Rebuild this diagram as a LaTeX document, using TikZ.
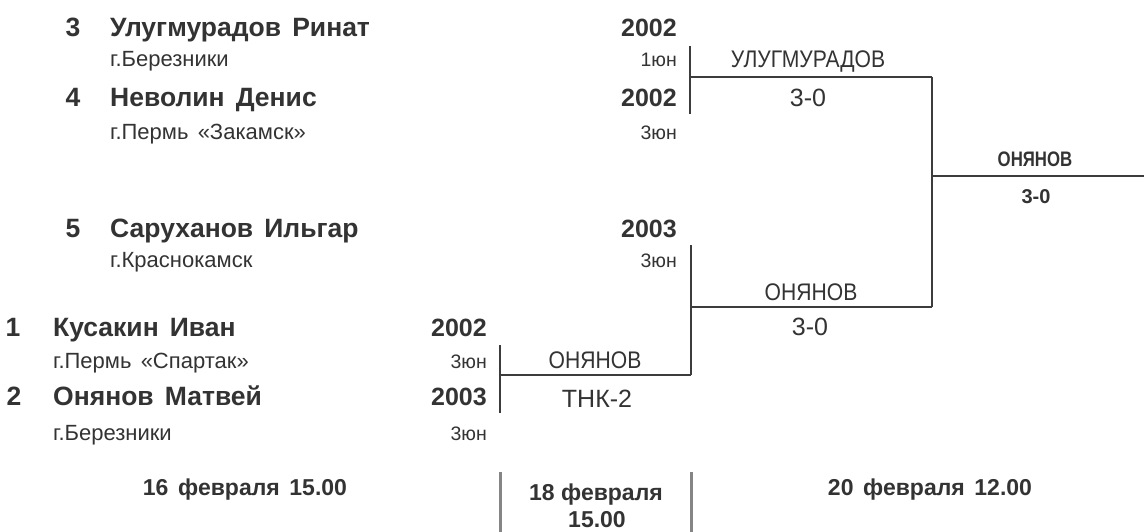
\documentclass[tikz,border=0pt]{standalone}
\usepackage{fontspec}
\setmainfont{Liberation Sans}
\newfontfamily\narrowfont[FakeStretch=0.88]{Liberation Sans}
\newfontfamily\finfont[FakeStretch=0.8]{Liberation Sans}
\definecolor{txt}{HTML}{333333}
\definecolor{ln}{HTML}{3C3C3C}
\definecolor{bar}{HTML}{858585}
\newcommand\wgap{\hspace{0.42em}}
\tikzset{
  every node/.style={inner sep=0pt, text=txt},
  seed/.style={anchor=base, font=\bfseries\fontsize{26.5}{28}\selectfont},
  pname/.style={anchor=base west, font=\bfseries\fontsize{26.5}{28}\selectfont},
  city/.style={anchor=base west, font=\fontsize{22}{24}\selectfont},
  yr/.style={anchor=base east, font=\bfseries\fontsize{25}{27}\selectfont},
  rnk/.style={anchor=base east, font=\fontsize{19.5}{21}\selectfont},
  win/.style={anchor=base, font=\narrowfont\fontsize{24}{26}\selectfont},
  score/.style={anchor=base, font=\fontsize{25}{27}\selectfont},
  finw/.style={anchor=base, font=\finfont\bfseries\fontsize{21}{23}\selectfont},
  fins/.style={anchor=base, font=\bfseries\fontsize{20}{22}\selectfont},
  datef/.style={anchor=base, font=\bfseries\fontsize{23}{25}\selectfont},
  bline/.style={draw=ln, line width=1.4pt},
  sepbar/.style={draw=bar, line width=3pt}
}
\begin{document}
\begin{tikzpicture}[x=1pt,y=-1pt]
\path[fill=white, use as bounding box] (0,0) rectangle (1144,532);

% top pair
\node[seed] (s3) at (73,37) {3};
\node[pname] (n3) at (110,37) {Улугмурадов\wgap Ринат};
\node[city] (c3) at (110,67) {г.Березники};
\node[seed] (s4) at (73,107) {4};
\node[pname] (n4) at (110,107) {Неволин\wgap Денис};
\node[city] (c4) at (110,140) {г.Пермь\wgap «Закамск»};
\node[yr] (y3) at (677,37) {2002};
\node[rnk] (r3) at (677,67) {1юн};
\node[yr] (y4) at (677,107) {2002};
\node[rnk] (r4) at (677,140) {3юн};

% fifth
\node[seed] (s5) at (73,237) {5};
\node[pname] (n5) at (110,237) {Саруханов\wgap Ильгар};
\node[city] (c5) at (110,267) {г.Краснокамск};
\node[yr] (y5) at (677,237) {2003};
\node[rnk] (r5) at (677,267) {3юн};

% lower pair
\node[seed] (s1) at (13,336) {1};
\node[pname] (n1) at (53,336) {Кусакин\wgap Иван};
\node[city] (c1) at (53,368) {г.Пермь\wgap «Спартак»};
\node[seed] (s2) at (14,405) {2};
\node[pname] (n2) at (53,405) {Онянов\wgap Матвей};
\node[city] (c2) at (53,440) {г.Березники};
\node[yr] (y1) at (487,336) {2002};
\node[rnk] (r1) at (487,368) {3юн};
\node[yr] (y2) at (487,405) {2003};
\node[rnk] (r2) at (487,440) {3юн};

% bracket junctions
\coordinate (a1) at (690,46);
\coordinate (a2) at (690,114);
\coordinate (am) at (690,77);
\coordinate (b1) at (500,345);
\coordinate (b2) at (500,413);
\coordinate (bm) at (500,375);
\coordinate (bj) at (691,375);
\coordinate (c0) at (691,245);
\coordinate (cm) at (691,307);
\coordinate (d1) at (932,77);
\coordinate (d2) at (932,307);
\coordinate (dm) at (932,176);
\coordinate (fe) at (1144,176);

\draw[bline] (a1) -- (a2);
\draw[bline] (am) -- (d1);
\draw[bline] (b1) -- (b2);
\draw[bline] (bm) -- (bj);
\draw[bline] (c0) -- (bj);
\draw[bline] (cm) -- (d2);
\draw[bline] (d1) -- (d2);
\draw[bline] (dm) -- (fe);

% results
\node[win] (w1) at (808,68) {УЛУГМУРАДОВ};
\node[score] (sc1) at (808,107) {3-0};
\node[win] (w2) at (811,300) {ОНЯНОВ};
\node[score] (sc2) at (810,335) {3-0};
\node[win] (w3) at (595,368) {ОНЯНОВ};
\node[score] (sc3) at (597,407) {ТНК-2};
\node[finw] (w4) at (1035,167) {ОНЯНОВ};
\node[fins] (sc4) at (1036,204) {3-0};

% dates
\coordinate (p1) at (500,472);
\coordinate (p2) at (500,532);
\coordinate (q1) at (691,472);
\coordinate (q2) at (691,532);
\draw[sepbar] (p1) -- (p2);
\draw[sepbar] (q1) -- (q2);
\node[datef] (dt1) at (245,495) {16\wgap февраля\wgap 15.00};
\node[datef] (dt2) at (596,500) {18 февраля};
\node[datef] (dt3) at (597,527) {15.00};
\node[datef] (dt4) at (930,495) {20\wgap февраля\wgap 12.00};
\end{tikzpicture}
\end{document}
